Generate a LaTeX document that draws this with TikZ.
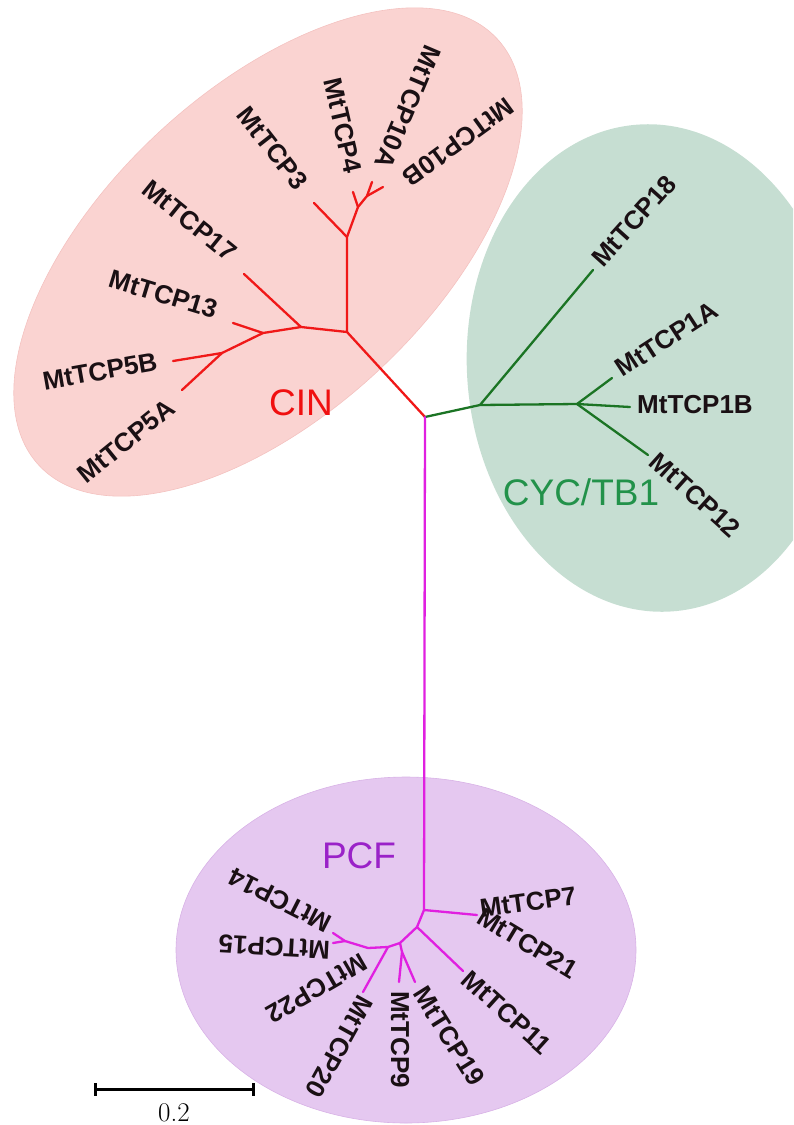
\documentclass[tikz,border=0pt]{standalone}
\usepackage{fontspec}
\newfontfamily\arial{Liberation Sans}
\definecolor{cinfill}{HTML}{FAD3D1}
\definecolor{cinedge}{HTML}{F4C2C0}
\definecolor{cycfill}{HTML}{C6DED2}
\definecolor{pcffill}{HTML}{E5C8F0}
\definecolor{pcfedge}{HTML}{D8B2E6}
\definecolor{cinline}{HTML}{F01818}
\definecolor{cycline}{HTML}{1B7424}
\definecolor{pcfline}{HTML}{E020E0}
\definecolor{cintext}{HTML}{F01010}
\definecolor{cyctext}{HTML}{22924A}
\definecolor{pcftext}{HTML}{9A22C8}
\definecolor{labtext}{HTML}{1A1014}
\begin{document}
\begin{tikzpicture}[x=1pt,y=-1pt,
  br/.style={line width=2.3pt,line cap=round,line join=round},
  cinbr/.style={br,draw=cinline},
  cycbr/.style={br,draw=cycline},
  pcfbr/.style={br,draw=pcfline},
  lab/.style={font=\arial\bfseries\fontsize{26}{26}\selectfont,text=labtext,inner sep=1pt},
  grp/.style={font=\arial\fontsize{37}{37}\selectfont,inner sep=0pt},
  bar/.style={line width=3pt}]
\useasboundingbox (0,0) rectangle (793,1125);
\clip (0,0) rectangle (793,1125);
% clade backgrounds
\filldraw[fill=cinfill,draw=cinedge,line width=0.6pt,rotate around={43:(268,252)}] (268,252) ellipse [x radius=313pt,y radius=162pt];
\fill[cycfill,rotate around={4:(655,368)}] (655,368) ellipse [x radius=188pt,y radius=244pt];
\filldraw[fill=pcffill,draw=pcfedge,line width=0.6pt] (406,950) ellipse [x radius=230pt,y radius=173pt];
% coordinates
\coordinate (R) at (425,417);
\coordinate (A) at (347,332);
\coordinate (B) at (347,237);
\coordinate (C) at (358,207);
\coordinate (D) at (367,196);
\coordinate (t4) at (353,192);
\coordinate (t10A) at (372,182);
\coordinate (t10B) at (383,187);
\coordinate (t3) at (314,203);
\coordinate (E) at (301,327);
\coordinate (t17) at (244,274);
\coordinate (F) at (263,333);
\coordinate (t13) at (233,323);
\coordinate (G) at (222,353);
\coordinate (t5B) at (173,361);
\coordinate (t5A) at (182,390);
\coordinate (H) at (480,405);
\coordinate (t18) at (593,270);
\coordinate (I) at (577,404);
\coordinate (t1A) at (612,378);
\coordinate (t1B) at (630,407);
\coordinate (t12) at (648,455);
\coordinate (J) at (424,910);
\coordinate (t7) at (477,915);
\coordinate (K) at (417,927);
\coordinate (t11) at (463,971);
\coordinate (L) at (400,943);
\coordinate (M) at (402,952);
\coordinate (t9) at (399,982);
\coordinate (t19) at (415,982);
\coordinate (N) at (388,947);
\coordinate (t20) at (363,992);
\coordinate (O) at (368,948);
\coordinate (P) at (345,941);
\coordinate (t14) at (333,933);
\coordinate (t15) at (333,943);
% CIN branches
\draw[cinbr] (R) -- (A) -- (B) -- (C) -- (D) -- (t10A);
\draw[cinbr] (D) -- (t10B);
\draw[cinbr] (C) -- (t4);
\draw[cinbr] (B) -- (t3);
\draw[cinbr] (A) -- (E) -- (F) -- (G) -- (t5B);
\draw[cinbr] (G) -- (t5A);
\draw[cinbr] (F) -- (t13);
\draw[cinbr] (E) -- (t17);
% CYC branches
\draw[cycbr] (R) -- (H) -- (I) -- (t1B);
\draw[cycbr] (H) -- (t18);
\draw[cycbr] (I) -- (t1A);
\draw[cycbr] (I) -- (t12);
% PCF branches
\draw[pcfbr] (R) -- (J) -- (K) -- (L) -- (N) -- (O) -- (P) -- (t14);
\draw[pcfbr] (P) -- (t15);
\draw[pcfbr] (J) -- (t7);
\draw[pcfbr] (K) -- (t11);
\draw[pcfbr] (L) -- (M) -- (t9);
\draw[pcfbr] (M) -- (t19);
\draw[pcfbr] (N) -- (t20);
% CIN labels
\node[lab,rotate=-144,anchor=east] (l10B) at (405,181) {MtTCP10B};
\node[lab,rotate=-113,anchor=east] (l10A) at (382,168) {MtTCP10A};
\node[lab,rotate=-77,anchor=east] (l4) at (354,174) {MtTCP4};
\node[lab,rotate=-52,anchor=east] (l3) at (303,187) {MtTCP3};
\node[lab,rotate=-39,anchor=east] (l17) at (234,256) {MtTCP17};
\node[lab,rotate=-17,anchor=east] (l13) at (218,311) {MtTCP13};
\node[lab,rotate=10,anchor=east] (l5B) at (158,361) {MtTCP5B};
\node[lab,rotate=39,anchor=east] (l5A) at (172,404) {MtTCP5A};
% CYC labels
\node[lab,rotate=48,anchor=west] (l18) at (596,263) {MtTCP18};
\node[lab,rotate=33,anchor=west] (l1A) at (617,371) {MtTCP1A};
\node[lab,anchor=west] (l1B) at (636,405) {MtTCP1B};
\node[lab,rotate=-42,anchor=west] (l12) at (653,457) {MtTCP12};
% PCF labels
\node[lab,rotate=8,anchor=west] (l7) at (479,909) {MtTCP7};
\node[lab,rotate=-31,anchor=west] (l21) at (479,914) {MtTCP21};
\node[lab,rotate=-42,anchor=west] (l11) at (465,975) {MtTCP11};
\node[lab,rotate=-58,anchor=west] (l19) at (419,988) {MtTCP19};
\node[lab,rotate=-90,anchor=west] (l9) at (400,990) {MtTCP9};
\node[lab,rotate=-119,anchor=west] (l20) at (367,997) {MtTCP20};
\node[lab,rotate=-150,anchor=west] (l22) at (366,960) {MtTCP22};
\node[lab,rotate=153,anchor=west] (l14) at (331,926) {MtTCP14};
\node[lab,rotate=177,anchor=west] (l15) at (331,950) {MtTCP15};
% group labels
\node[grp,text=cintext] (gcin) at (301,403) {CIN};
\node[grp,text=cyctext] (gcyc) at (581,492) {CYC/TB1};
\node[grp,text=pcftext] (gpcf) at (359,856) {PCF};
% scale bar
\coordinate (s1) at (95,1089);
\coordinate (s2) at (253,1089);
\draw[bar] (s1) -- (s2);
\draw[bar] ([yshift=-6.5pt]s1) -- ([yshift=6.5pt]s1);
\draw[bar] ([yshift=-6.5pt]s2) -- ([yshift=6.5pt]s2);
\node[font=\fontsize{27}{27}\selectfont,inner sep=0pt] (sl) at (174,1113) {0.2};
\end{tikzpicture}
\end{document}
